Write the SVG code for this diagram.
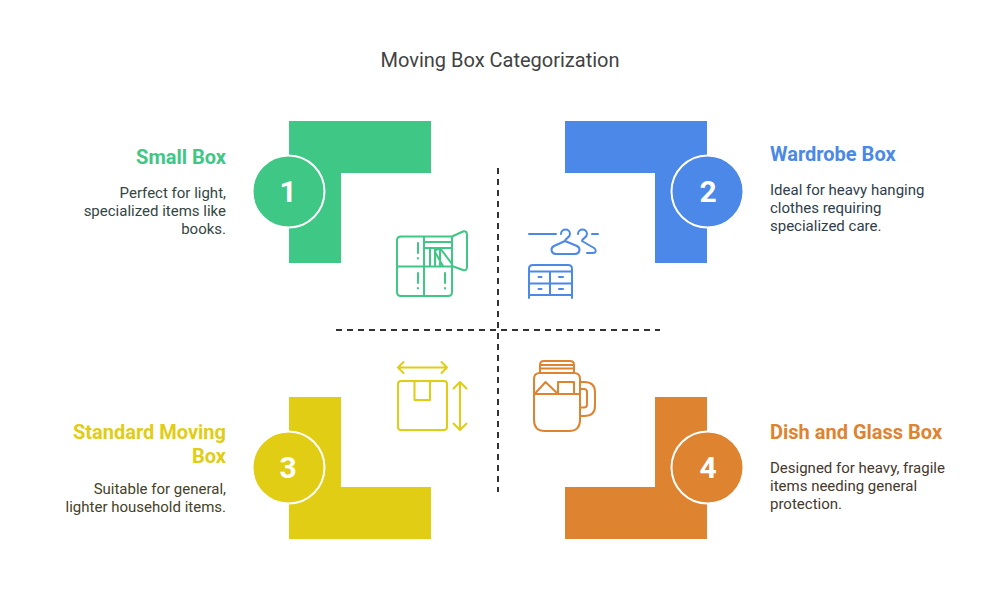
<svg xmlns="http://www.w3.org/2000/svg" width="1000" height="613" viewBox="0 0 1000 613">
<style>
text{font-family:Roboto,"Liberation Sans",sans-serif}
.title{font-size:20px;fill:#424242;text-anchor:middle}
.h{font-size:20px;font-weight:700}
.b{font-size:15px}
.n{font-size:30px;font-weight:700;fill:#fff;text-anchor:middle}
.r{text-anchor:end}
.ic{fill:none;stroke-width:2;stroke-linecap:round;stroke-linejoin:round}
.d{fill:none;stroke:#333;stroke-width:2;stroke-dasharray:6 5}
.c{stroke:#fff;stroke-width:2}
</style>
<rect width="1000" height="613" fill="#fff"/>
<text class="title" x="500" y="67">Moving Box Categorization</text>
<g id="connectors">
<path class="d" d="M498 168V492"/>
<path class="d" d="M336 330H660"/>
</g>
<g id="node-1">
<path d="M289 121H431V173H341V263H289Z" fill="#3ec785"/>
<circle class="c" cx="288.500" cy="191.500" r="36" fill="#3ec785"/>
<text class="n" x="288" y="202">1</text>
<text class="h r" x="226" y="164" fill="#3ec785">Small Box</text>
<g class="b r" fill="#34463f"><text x="226" y="198">Perfect for light,</text><text x="226" y="216">specialized items like</text><text x="226" y="234">books.</text></g>
<g class="ic" stroke="#3ec785">
<path d="M452 236.500H401Q397 236.500 397 240.500V292Q397 296 401 296H448Q452 296 452 292V236.500L463 231.500Q467 230.500 467 235V267Q467 271 463 270L452 266M397 266.500H452M424 236.500V296M424 242H452M424 248H452M430 248V266M435 248V266M430 248H440V266M436 250L440 248L452 264M443 266L435 252M418 243V253M418 258V258.500M418 273V283M418 288V288.500M445 273V283M445 288V288.500"/>
</g>
</g>
<g id="node-2">
<path d="M565 121H707V263H655V173H565Z" fill="#4b88e8"/>
<circle class="c" cx="707.500" cy="191.500" r="36" fill="#4b88e8"/>
<text class="n" x="708" y="202">2</text>
<text class="h" x="770" y="161" fill="#4b88e8">Wardrobe Box</text>
<g class="b" fill="#2f3d4a"><text x="770" y="195">Ideal for heavy hanging</text><text x="770" y="213">clothes requiring</text><text x="770" y="231">specialized care.</text></g>
<g class="ic" stroke="#4b88e8">
<path d="M529 234H556M592 234H598M561 234C561 228 570 228 570 234C570 238 565 238 565 241L554 246C550 248 551 254 556 254H575C580 254 581 248 577 246L565 241M578 234C578 228 587 228 587 234C587 238 582 238 582 241L594 248C597 250 596 253 593 253H587"/>
<path d="M529 298V269Q529 265 533 265H568Q572 265 572 269V298M529 271.500H572M550 271.500V295M529 283.500H572M529 295H572M538.500 277H541.500M559 277H563M538.500 289H541.500M559 289H563"/>
</g>
</g>
<g id="node-3">
<path d="M289 397H341V487H431V539H289Z" fill="#e0cd14"/>
<circle class="c" cx="288.500" cy="467.500" r="36" fill="#e0cd14"/>
<text class="n" x="288" y="478">3</text>
<g class="h r" fill="#e0cd14"><text x="226" y="439">Standard Moving</text><text x="226" y="463">Box</text></g>
<g class="b r" fill="#45421f"><text x="226" y="494">Suitable for general,</text><text x="226" y="512">lighter household items.</text></g>
<g class="ic" stroke="#e0cd14">
<rect x="398" y="381" width="49" height="49" rx="3"/>
<path d="M414.500 381V400H430V381M398 367.500H447M403.500 362L398 367.500L403.500 373M441.500 362L447 367.500L441.500 373M460 382V430M453.500 388.500L460 382L466.500 388.500M453.500 423.500L460 430L466.500 423.500"/>
</g>
</g>
<g id="node-4">
<path d="M655 397H707V539H565V487H655Z" fill="#de8431"/>
<circle class="c" cx="707.500" cy="467.500" r="36" fill="#de8431"/>
<text class="n" x="708" y="478">4</text>
<text class="h" x="770" y="439" fill="#de8431">Dish and Glass Box</text>
<g class="b" fill="#45382c"><text x="770" y="473">Designed for heavy, fragile</text><text x="770" y="491">items needing general</text><text x="770" y="509">protection.</text></g>
<g class="ic" stroke="#de8431">
<path d="M540 373V365Q540 361 544 361H570Q574 361 574 365V373M541 365H573M541 368.500H573"/>
<path d="M540 373H574Q580 373 580 379V420Q580 431 569 431H545Q534 431 534 420V379Q534 373 540 373Z"/>
<path d="M534 394H580M535.500 393L545.500 382L557 393M558 393V382H574V393"/>
<path d="M580 382H584Q595 382 595 392V406Q595 416 584 416H580M580 389H584Q587 389 587 392V404Q587 407.500 584 407.500H580"/>
</g>
</g>
</svg>
